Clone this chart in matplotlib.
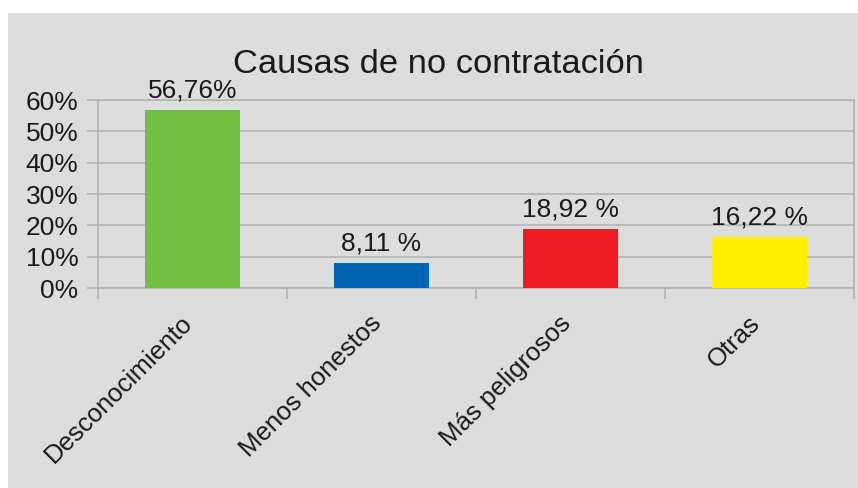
import numpy as np
import matplotlib
matplotlib.use('Agg')
from matplotlib import pyplot as plt
from matplotlib.patches import Rectangle
from matplotlib.transforms import ScaledTranslation

# Chart data
categories = ['Desconocimiento', 'Menos honestos', 'Más peligrosos', 'Otras']
values = [56.76, 8.11, 18.92, 16.22]
value_labels = ['56,76%', '8,11 %', '18,92 %', '16,22 %']
bar_colors = ['#72bf44', '#0066b3', '#ed1c24', '#fff200']
y_ticks = [0, 10, 20, 30, 40, 50, 60]
y_tick_labels = ['0%', '10%', '20%', '30%', '40%', '50%', '60%']
title = 'Causas de no contratación'

plt.rcParams['font.family'] = ['Liberation Sans', 'DejaVu Sans']

W, H = 858, 488
fig = plt.figure(figsize=(W / 100, H / 100), dpi=100)
fig.patch.set_facecolor('white')

# Grey chart background (leaves a thin white margin on top and left)
bg = '#dddddd'
fig.patches.append(Rectangle((8 / W, 0), 1 - 8 / W, (H - 13) / H,
                             transform=fig.transFigure, facecolor=bg,
                             edgecolor='none', zorder=-10))

ax = fig.add_axes([98 / W, (H - 288) / H, (854 - 98) / W, (288 - 100) / H])
ax.set_facecolor('none')

grid_color = '#b3b3b3'
text_color = '#1a1a1a'
x = np.arange(len(categories))
ax.bar(x, values, width=0.5, color=bar_colors, linewidth=0, zorder=3)

# Value labels above the bars
for xi, v, lab in zip(x, values, value_labels):
    ax.annotate(lab, (xi, v), xytext=(0, 9), textcoords='offset points',
                ha='center', va='baseline', fontsize=19, color=text_color)

ax.set_xlim(-0.5, len(categories) - 0.5)
ax.set_ylim(0, 60)
ax.set_yticks(y_ticks)
ax.set_yticklabels(y_tick_labels, fontsize=19, color=text_color)
ax.yaxis.grid(True, color=grid_color, linewidth=1.2, zorder=0)
ax.tick_params(axis='y', length=8, width=1.2, color=grid_color, pad=6)

# Category labels at centres, tick marks at the boundaries
ax.set_xticks(x)
ax.set_xticklabels(categories, fontsize=18.5, rotation=45, ha='right', color=text_color)
ax.set_xticks(np.arange(-0.5, len(categories)), minor=True)
ax.tick_params(axis='x', which='major', length=0, pad=18)
ax.tick_params(axis='x', which='minor', length=8, width=1.2, color=grid_color)
# nudge labels a little to the right, like the original
shift = ScaledTranslation(5 / 100, 2 / 100, fig.dpi_scale_trans)
for lbl in ax.get_xticklabels():
    lbl.set_transform(lbl.get_transform() + shift)

for side in ['left', 'bottom', 'right', 'top']:
    ax.spines[side].set_color(grid_color)
    ax.spines[side].set_linewidth(1.2)
ax.set_axisbelow(True)

fig.text(438 / W, (H - 73) / H, title, ha='center', va='baseline',
         fontsize=24.8, color=text_color)

fig.savefig('out.png', dpi=100, facecolor=fig.get_facecolor())
